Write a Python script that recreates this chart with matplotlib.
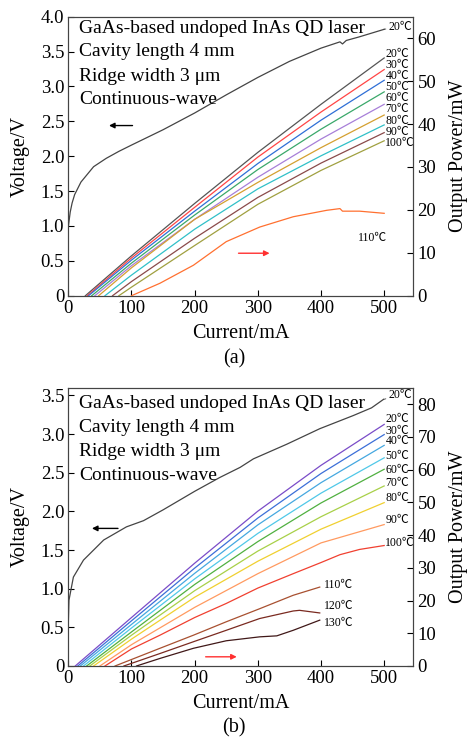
import matplotlib.pyplot as plt
import numpy as np
from matplotlib.ticker import FuncFormatter

plt.rcParams['font.family'] = ['Liberation Serif', 'Noto Sans CJK SC']
plt.rcParams['axes.linewidth'] = 0.8
plt.rcParams['axes.edgecolor'] = '#444444'

# ---------------- panel (a): GaAs undoped QD laser, up to 110 C ----------------
# voltage (20 C)
va_I = [0, 3, 6, 10, 20, 40, 60, 80, 100, 150, 200, 250, 300, 350, 400, 430, 434, 440, 460, 500]
va_V = [0.99, 1.20, 1.33, 1.45, 1.63, 1.85, 1.97, 2.07, 2.16, 2.38, 2.62, 2.88, 3.13, 3.36, 3.55, 3.64, 3.61, 3.66, 3.71, 3.82]

temps_a = ['20', '30', '40', '50', '60', '70', '80', '90', '100']
thr_a = [27, 30, 32, 37, 42, 48, 58, 70, 80]
p100_a = [9.3, 8.8, 8.3, 7.6, 7.0, 6.5, 4.8, 3.3, 2.0]
p200_a = [21.5, 20.6, 19.7, 18.8, 17.8, 17.8, 15.5, 13.4, 11.7]
p300_a = [33.4, 32.3, 30.8, 29.4, 27.6, 26.4, 24.9, 22.9, 21.3]
p400_a = [44.6, 42.8, 40.9, 38.8, 36.5, 34.5, 32.6, 30.9, 29.2]
p500_a = [55.4, 52.7, 50.2, 47.5, 44.6, 42.1, 39.8, 38.0, 36.1]
colors_a = ['#555555', '#ff4545', '#2f6fd6', '#3aa86a', '#a77fd8', '#d4a030',
            '#30c0c8', '#8a4a4a', '#a0a040']
lab_a = [56.4, 53.8, 51.2, 48.6, 46.0, 43.4, 40.7, 38.1, 35.5]

# 110 C curve
a110_I = [100, 145, 198, 250, 303, 356, 409, 430, 434, 461, 500]
a110_P = [0, 2.9, 7.1, 12.6, 16.0, 18.4, 19.9, 20.3, 19.7, 19.7, 19.2]

# ---------------- panel (b): up to 130 C ----------------
vb_I = [0, 1, 8, 24, 40, 56, 92, 119, 150, 175, 200, 220, 240, 272, 293, 346, 398, 451, 480, 499]
vb_V = [0.55, 0.85, 1.15, 1.37, 1.50, 1.63, 1.80, 1.88, 2.02, 2.14, 2.26, 2.35, 2.44, 2.57, 2.68, 2.87, 3.07, 3.24, 3.34, 3.45]

temps_b = ['20', '30', '40', '50', '60', '70', '80', '90']
thr_b = [11, 15, 19, 24, 29, 34, 40, 50]
p100_b = [14.8, 13.8, 12.7, 11.6, 10.4, 9.4, 8.2, 6.5]
p200_b = [31.4, 29.9, 28.3, 26.6, 24.9, 23.0, 21.0, 17.9]
p300_b = [47.3, 45.2, 43.1, 40.5, 38.0, 35.1, 32.0, 28.2]
p400_b = [61.3, 58.8, 56.0, 52.8, 49.8, 45.6, 41.8, 37.6]
p500_b = [73.8, 70.7, 67.4, 63.6, 60.1, 55.0, 49.9, 43.2]
colors_b = ['#7a4cc8', '#3c6fd8', '#45a8e0', '#50c8e8', '#50b040', '#a8d048',
            '#f0d030', '#ff9a60']
lab_b = [75.3, 71.9, 68.7, 64.1, 60.0, 55.8, 51.2, 44.6]

b100_I = [58, 100, 145, 200, 250, 300, 356, 400, 430, 461, 500]
b100_P = [0, 5.2, 9.4, 14.8, 19.1, 23.8, 28.2, 31.6, 34.0, 35.6, 36.8]
b110_I = [74, 145, 198, 250, 303, 356, 398]
b110_P = [0, 5.4, 9.4, 13.5, 17.5, 21.6, 24.1]
b120_I = [88, 145, 198, 250, 303, 356, 366, 398]
b120_P = [0, 3.8, 7.4, 10.9, 14.5, 16.8, 17.0, 16.2]
b130_I = [108, 145, 198, 250, 303, 330, 356, 398]
b130_P = [0, 2.3, 5.4, 7.7, 8.9, 9.2, 10.9, 14.0]
extra_b = [('100', b100_I, b100_P, '#f04030', 37.7, 502),
           ('110', b110_I, b110_P, '#a85030', 24.7, 404),
           ('120', b120_I, b120_P, '#7a2a20', 18.3, 404),
           ('130', b130_I, b130_P, '#401818', 13.2, 404)]

text_lines = ['GaAs-based undoped InAs QD laser', 'Cavity length 4 mm',
              'Ridge width 3 \u03bcm', 'Continuous-wave']

fig = plt.figure(figsize=(4.68, 7.38), dpi=100)
ax_a = fig.add_axes([0.146, 0.5993, 0.737, 0.378])
ax_b = fig.add_axes([0.146, 0.0976, 0.737, 0.377])


def style(ax, ax2, vmax, vticks, pmax, pticks):
    ax.set_xlim(0, 546)
    ax.set_ylim(0, vmax)
    ax2.set_ylim(0, pmax)
    ax.set_xticks([0, 100, 200, 300, 400, 500])
    ax.set_yticks(vticks)
    ax2.set_yticks(pticks)
    ax.yaxis.set_major_formatter(FuncFormatter(lambda v, p: '0' if v == 0 else '%.1f' % v))
    for a in (ax, ax2):
        a.tick_params(direction='in', length=4, width=0.8, labelsize=13.5, pad=3)
    ax.set_xlabel('Current/mA', fontsize=14.5, labelpad=5)
    ax.set_ylabel('Voltage/V', fontsize=14.5, labelpad=8)
    ax2.set_ylabel('Output Power/mW', fontsize=14.5, labelpad=9)


# panel (a)
ax2a = ax_a.twinx()
style(ax_a, ax2a, 4.0, np.arange(0, 4.01, 0.5), 65, np.arange(0, 61, 10))
ax_a.plot(va_I, va_V, color='#444444', lw=0.9)
ax_a.annotate('20\u2103', xy=(499, 3.82), xytext=(507, 3.85), fontsize=8.5,
              va='center', arrowprops=dict(arrowstyle='-', lw=0.6, color='#444444'))
for i, t in enumerate(temps_a):
    xs = [thr_a[i], 100, 200, 300, 400, 500]
    ys = [0, p100_a[i], p200_a[i], p300_a[i], p400_a[i], p500_a[i]]
    ax2a.plot(xs, ys, color=colors_a[i], lw=0.9)
    ax2a.text(502, lab_a[i], t + '\u2103', fontsize=8.5, va='center', ha='left')
ax2a.plot(a110_I, a110_P, color='#ff7030', lw=0.9)
ax2a.text(459, 13.4, '110\u2103', fontsize=8.5, va='center', ha='left')
for k, s in enumerate(text_lines):
    ax_a.text(0.031, [0.958, 0.875, 0.787, 0.704][k], s, transform=ax_a.transAxes,
              fontsize=14, va='center', ha='left')
ax_a.annotate('', xy=(60, 2.44), xytext=(106, 2.44),
              arrowprops=dict(arrowstyle='-|>', lw=1.0, color='black', mutation_scale=8))
ax2a.annotate('', xy=(323, 9.9), xytext=(265, 9.9),
              arrowprops=dict(arrowstyle='-|>', lw=1.0, color='#ff3030', mutation_scale=8))
fig.text(0.5, 1 - 359 / 738, '(a)', ha='center', va='center', fontsize=14.5)

# panel (b)
ax2b = ax_b.twinx()
style(ax_b, ax2b, 3.6, np.arange(0, 3.51, 0.5), 85, np.arange(0, 81, 10))
ax_b.plot(vb_I, vb_V, color='#444444', lw=0.9)
ax_b.annotate('20\u2103', xy=(499, 3.45), xytext=(507, 3.50), fontsize=8.5,
              va='center', arrowprops=dict(arrowstyle='-', lw=0.6, color='#444444'))
for i, t in enumerate(temps_b):
    xs = [thr_b[i], 100, 200, 300, 400, 500]
    ys = [0, p100_b[i], p200_b[i], p300_b[i], p400_b[i], p500_b[i]]
    ax2b.plot(xs, ys, color=colors_b[i], lw=0.9)
    ax2b.text(502, lab_b[i], t + '\u2103', fontsize=8.5, va='center', ha='left')
for t, xs, ys, c, ly, lx in extra_b:
    ax2b.plot(xs, ys, color=c, lw=0.9)
    ax2b.text(lx, ly, t + '\u2103', fontsize=8.5, va='center', ha='left')
for k, s in enumerate(text_lines):
    ax_b.text(0.031, [0.944, 0.856, 0.770, 0.683][k], s, transform=ax_b.transAxes,
              fontsize=14, va='center', ha='left')
ax_b.annotate('', xy=(33, 1.78), xytext=(83, 1.78),
              arrowprops=dict(arrowstyle='-|>', lw=1.0, color='black', mutation_scale=8))
ax2b.annotate('', xy=(271, 2.8), xytext=(213, 2.8),
              arrowprops=dict(arrowstyle='-|>', lw=1.0, color='#ff3030', mutation_scale=8))
fig.text(0.5, 1 - 728 / 738, '(b)', ha='center', va='center', fontsize=14.5)

fig.savefig('out.png', dpi=100)
